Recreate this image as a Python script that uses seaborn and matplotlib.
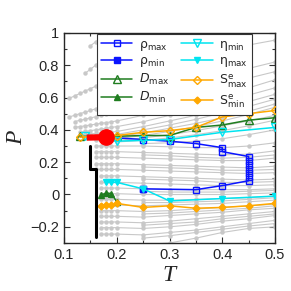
import numpy as np
import pandas as pd
import seaborn as sns
import matplotlib
matplotlib.use("Agg")
import matplotlib.pyplot as plt
from matplotlib.ticker import MultipleLocator

# temperature grid used by the isochores
T_all = [0.11, 0.12, 0.13, 0.14, 0.15, 0.16, 0.17, 0.18, 0.19, 0.2,
         0.25, 0.3, 0.35, 0.4, 0.45, 0.5]

# isochores: (first T, pressures along T_all from there)
isochores = [
    (0.15, [0.92, 0.945, 0.97, 0.99, 1.01, 1.03]),
    (0.14, [0.75, 0.775, 0.80, 0.82, 0.84, 0.86, 0.88, 0.96, 1.03]),
    (0.11, [0.595, 0.61, 0.625, 0.64, 0.655, 0.67, 0.685, 0.70, 0.715, 0.73, 0.78, 0.82, 0.86, 0.895, 0.925, 0.955]),
    (0.11, [0.48, 0.49, 0.50, 0.51, 0.52, 0.53, 0.54, 0.55, 0.56, 0.57, 0.60, 0.645, 0.69, 0.735, 0.78, 0.82]),
    (0.12, [0.45, 0.46, 0.465, 0.475, 0.48, 0.49, 0.50, 0.505, 0.515, 0.55, 0.59, 0.63, 0.675, 0.72, 0.76]),
    (0.12, [0.415, 0.42, 0.425, 0.43, 0.435, 0.44, 0.445, 0.45, 0.455, 0.49, 0.53, 0.57, 0.615, 0.66, 0.71]),
    (0.13, [0.385, 0.39, 0.395, 0.40, 0.405, 0.41, 0.415, 0.42, 0.45, 0.49, 0.53, 0.57, 0.615, 0.66]),
    (0.13, [0.37, 0.372, 0.375, 0.378, 0.38, 0.383, 0.386, 0.39, 0.42, 0.455, 0.49, 0.53, 0.575, 0.62]),
    (0.14, [0.36, 0.362, 0.364, 0.366, 0.368, 0.37, 0.372, 0.40, 0.43, 0.465, 0.505, 0.545, 0.59]),
    (0.16, [0.35, 0.352, 0.354, 0.356, 0.358, 0.38, 0.41, 0.44, 0.475, 0.515, 0.56]),
    (0.16, [0.34, 0.341, 0.342, 0.343, 0.345, 0.365, 0.39, 0.42, 0.455, 0.495, 0.54]),
    (0.2, [0.335, 0.35, 0.37, 0.395, 0.425, 0.455, 0.49]),
    (0.2, [0.325, 0.335, 0.35, 0.37, 0.395, 0.425, 0.46]),
    (0.25, [0.315, 0.32, 0.33, 0.345, 0.37, 0.40]),
    (0.16, [0.30, 0.30, 0.30, 0.30, 0.30, 0.30, 0.295, 0.29, 0.29, 0.30, 0.32]),
    (0.16, [0.265, 0.265, 0.265, 0.265, 0.265, 0.26, 0.255, 0.25, 0.245, 0.25, 0.27]),
    (0.16, [0.23, 0.23, 0.23, 0.23, 0.23, 0.225, 0.22, 0.215, 0.21, 0.21, 0.225]),
    (0.16, [0.19, 0.19, 0.19, 0.19, 0.19, 0.185, 0.18, 0.175, 0.17, 0.165, 0.175]),
    (0.16, [0.155, 0.155, 0.155, 0.155, 0.155, 0.15, 0.145, 0.14, 0.135, 0.13, 0.135]),
    (0.17, [0.115, 0.115, 0.115, 0.115, 0.11, 0.105, 0.10, 0.095, 0.09, 0.095]),
    (0.17, [0.075, 0.075, 0.075, 0.075, 0.07, 0.065, 0.06, 0.055, 0.055, 0.06]),
    (0.17, [0.04, 0.04, 0.04, 0.04, 0.035, 0.03, 0.03, 0.03, 0.03, 0.035]),
    (0.17, [0.005, 0.005, 0.005, 0.005, 0.0, 0.0, 0.0, 0.0, 0.005, 0.01]),
    (0.17, [-0.03, -0.03, -0.03, -0.03, -0.035, -0.035, -0.03, -0.025, -0.02, -0.01]),
    (0.17, [-0.065, -0.065, -0.065, -0.065, -0.07, -0.065, -0.06, -0.055, -0.045, -0.035]),
    (0.17, [-0.10, -0.10, -0.10, -0.10, -0.105, -0.10, -0.09, -0.08, -0.07, -0.06]),
    (0.17, [-0.135, -0.135, -0.135, -0.135, -0.14, -0.13, -0.12, -0.11, -0.095, -0.085]),
    (0.17, [-0.17, -0.17, -0.17, -0.17, -0.175, -0.165, -0.15, -0.135, -0.12, -0.105]),
    (0.17, [-0.205, -0.205, -0.205, -0.205, -0.21, -0.20, -0.185, -0.165, -0.15, -0.13]),
    (0.17, [-0.245, -0.245, -0.245, -0.245, -0.25, -0.235, -0.22, -0.20, -0.18, -0.16]),
    (0.25, [0.245, 0.24, 0.23, 0.225, 0.23, 0.245]),
    (0.25, [0.17, 0.165, 0.16, 0.15, 0.15, 0.155]),
    (0.25, [0.095, 0.09, 0.085, 0.075, 0.075, 0.08]),
    (0.25, [0.02, 0.015, 0.015, 0.015, 0.02, 0.025]),
    (0.25, [-0.05, -0.05, -0.045, -0.04, -0.03, -0.02]),
    (0.25, [-0.12, -0.115, -0.105, -0.095, -0.085, -0.07]),
    (0.25, [-0.19, -0.18, -0.17, -0.15, -0.135, -0.12]),
    (0.25, [-0.27, -0.255, -0.235, -0.215, -0.195, -0.18]),
    (0.25, [-0.31, -0.30, -0.27, -0.235, -0.21, -0.20]),
]

# anomaly lines
rho_max_T = [0.18, 0.25, 0.3, 0.35, 0.4, 0.4, 0.45, 0.45, 0.45, 0.45, 0.45, 0.45, 0.45, 0.4, 0.35, 0.25]
rho_max_P = [0.355, 0.34, 0.33, 0.315, 0.29, 0.265, 0.235, 0.21, 0.185, 0.16, 0.135, 0.11, 0.085, 0.055, 0.03, 0.035]
rho_min_T = [0.25]
rho_min_P = [0.035]
D_max_T = [0.13, 0.2, 0.25, 0.3, 0.35, 0.4, 0.45, 0.5]
D_max_P = [0.36, 0.36, 0.365, 0.365, 0.415, 0.43, 0.46, 0.475]
D_min_T = [0.17, 0.18, 0.19, 0.2]
D_min_P = [-0.005, 0.01, 0.005, -0.045]
eta_min_T = [0.14, 0.2, 0.25, 0.3, 0.4, 0.5]
eta_min_P = [0.36, 0.33, 0.335, 0.34, 0.385, 0.415]
eta_max_T = [0.18, 0.19, 0.2, 0.25, 0.3, 0.4, 0.5]
eta_max_P = [0.075, 0.075, 0.075, 0.035, -0.04, -0.025, -0.01]
S_max_T = [0.13, 0.2, 0.25, 0.3, 0.35, 0.4, 0.45, 0.5]
S_max_P = [0.355, 0.365, 0.385, 0.395, 0.415, 0.48, 0.50, 0.52]
S_min_T = [0.17, 0.18, 0.19, 0.2, 0.25, 0.3, 0.35, 0.4, 0.45, 0.5]
S_min_P = [-0.07, -0.065, -0.065, -0.055, -0.08, -0.07, -0.085, -0.08, -0.07, -0.055]

red_T = [0.143, 0.18]
red_P = [0.352, 0.355]
black_T = [0.15, 0.15, 0.16, 0.16]
black_P = [0.30, 0.155, 0.155, -0.26]

sns.set_style("ticks")
plt.rcParams["font.family"] = ["Liberation Sans", "DejaVu Sans"]
plt.rcParams["mathtext.fontset"] = "dejavusans"
plt.rcParams["xtick.direction"] = "in"
plt.rcParams["ytick.direction"] = "in"

rows = []
for k, (t0, ps) in enumerate(isochores):
    i0 = T_all.index(t0)
    for t, p in zip(T_all[i0:i0 + len(ps)], ps):
        rows.append({"iso": k, "T": t, "P": p})
iso_df = pd.DataFrame(rows)

fig = plt.figure(figsize=(2.91, 2.91), dpi=100)
ax = fig.add_axes([0.22, 0.165, 0.725, 0.722])

sns.lineplot(data=iso_df, x="T", y="P", units="iso", estimator=None, sort=False,
             color="#c8c8c8", lw=0.8, marker="o", markersize=3.2,
             markeredgewidth=0, ax=ax, legend=False, zorder=1)

def series(T, P, label, color, marker, ms, mfc, lw=1.1, z=3):
    sns.lineplot(x=T, y=P, sort=False, estimator=None, ax=ax, label=label,
                 color=color, lw=lw, marker=marker, markersize=ms,
                 markerfacecolor=mfc, markeredgecolor=color, markeredgewidth=1.0,
                 zorder=z)

blue, green, cyan, orange = "#0a14ff", "#1f7d1f", "#00e4f0", "#ffa800"
series(rho_max_T, rho_max_P, r"$\mathrm{\rho_{max}}$", blue, "s", 5, "none")
series(rho_min_T, rho_min_P, r"$\mathrm{\rho_{min}}$", blue, "s", 5, blue)
series(D_max_T, D_max_P, r"$\mathit{D}_{\mathrm{max}}$", green, "^", 5.5, "none")
series(D_min_T, D_min_P, r"$\mathit{D}_{\mathrm{min}}$", green, "^", 4, green)
series(eta_min_T, eta_min_P, r"$\mathrm{\eta_{min}}$", cyan, "v", 5.5, "none")
series(eta_max_T, eta_max_P, r"$\mathrm{\eta_{max}}$", cyan, "v", 4, cyan)
series(S_max_T, S_max_P, r"$\mathrm{S^{e}_{max}}$", orange, "D", 4.5, "none")
series(S_min_T, S_min_P, r"$\mathrm{S^{e}_{min}}$", orange, "D", 3.5, orange)

ax.plot(red_T, red_P, color="red", lw=4.5, solid_capstyle="butt", zorder=5)
ax.plot(red_T[-1:], red_P[-1:], "o", color="red", markersize=11, zorder=6)
ax.plot(black_T, black_P, color="black", lw=2.2, zorder=5)

ax.set_xlim(0.1, 0.5)
ax.set_ylim(-0.3, 1.0)
ax.xaxis.set_major_locator(MultipleLocator(0.1))
ax.xaxis.set_minor_locator(MultipleLocator(0.05))
ax.yaxis.set_major_locator(MultipleLocator(0.2))
ax.yaxis.set_minor_locator(MultipleLocator(0.1))
ax.xaxis.set_major_formatter(plt.FuncFormatter(lambda v, _: f"{v:g}"))
ax.yaxis.set_major_formatter(plt.FuncFormatter(lambda v, _: f"{v:g}".replace("-", "\u2212")))
ax.tick_params(which="both", top=True, right=True, labelsize=10.5, width=0.8, color="#333333")
ax.tick_params(which="major", length=4)
ax.tick_params(which="minor", length=2)
for s in ax.spines.values():
    s.set_linewidth(1.0)

ax.set_xlabel("T", fontsize=17, fontstyle="italic", family="Liberation Serif", labelpad=2)
ax.set_ylabel("P", fontsize=17, fontstyle="italic", family="Liberation Serif", labelpad=2)

leg = ax.legend(ncol=2, loc="upper left", bbox_to_anchor=(0.155, 0.993), fontsize=9,
                handlelength=2.5, columnspacing=1.0, labelspacing=0.22,
                handletextpad=0.5, borderpad=0.35, borderaxespad=0, fancybox=False, framealpha=1)
leg.get_frame().set_edgecolor("#333333")
leg.get_frame().set_linewidth(0.8)
leg.set_zorder(10)

fig.savefig("out.png", dpi=100)
